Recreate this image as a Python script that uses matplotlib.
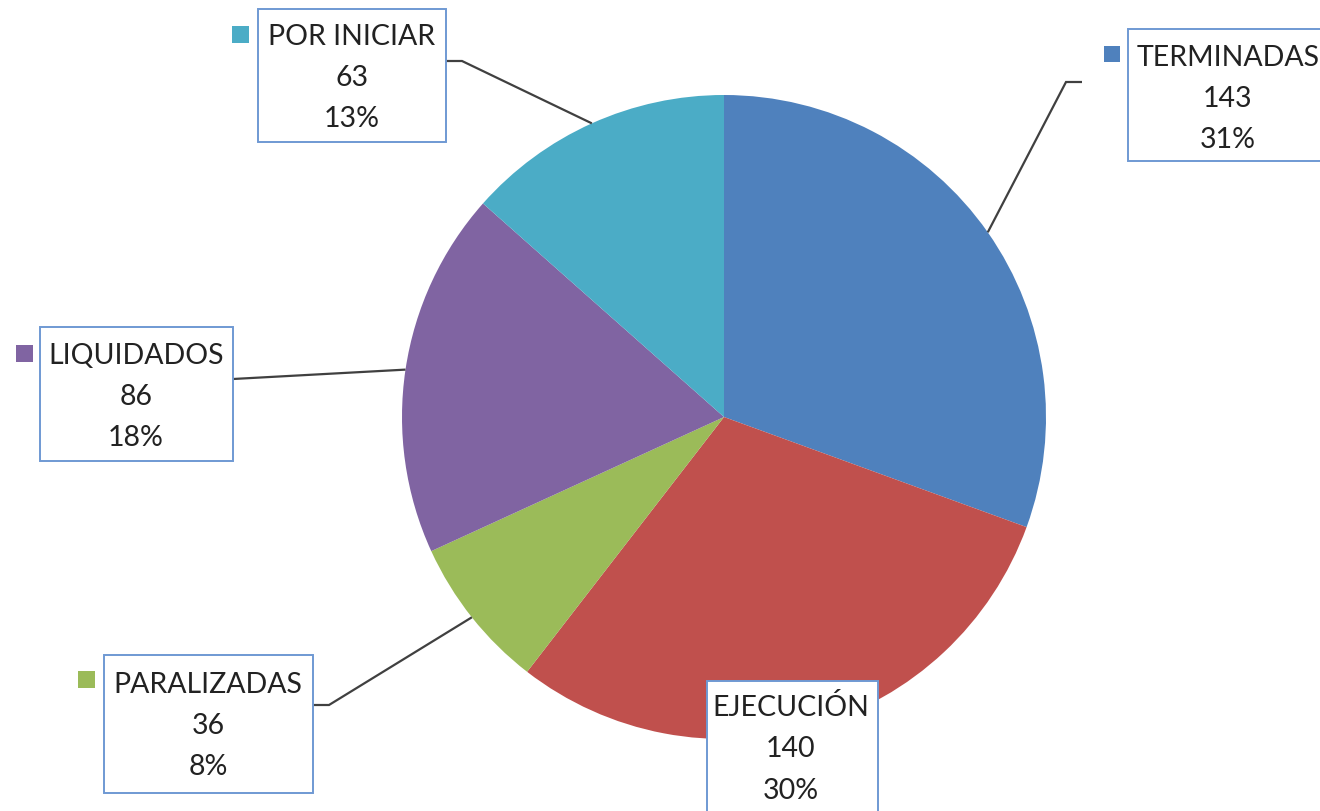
import numpy as np
import matplotlib
matplotlib.use("Agg")
import matplotlib.pyplot as plt
from matplotlib.patches import Rectangle

# ---- data ----
categories = ["TERMINADAS", "EJECUCIÓN", "PARALIZADAS", "LIQUIDADOS", "POR INICIAR"]
values = [143, 140, 36, 86, 63]
colors = ["#4F81BD", "#C0504D", "#9BBB59", "#8064A2", "#4BACC6"]

# ---- layout (pixel coordinates, y measured from top) ----
W, H = 1320, 812
CX, CY, R = 724, 418, 322
boxes = {
    "TERMINADAS": dict(box=(1128, 30, 1330, 162), tc=(1228, 98), mk=(1104, 47, 16),
                       leader=[(1082, 83), (1066, 83)]),
    "EJECUCIÓN": dict(box=(707, 682, 878, 820), tc=(791, 748), mk=(683, 697, 16),
                      leader=None),
    "PARALIZADAS": dict(box=(104, 656, 313, 794), tc=(208, 725), mk=(78, 672, 17),
                        leader=[(313, 706), (329, 706)]),
    "LIQUIDADOS": dict(box=(40, 328, 233, 462), tc=(136, 396), mk=(16, 346, 17),
                       leader=[(233, 380)]),
    "POR INICIAR": dict(box=(258, 10, 446, 143), tc=(352, 77), mk=(232, 27, 17),
                        leader=[(446, 62), (462, 62)]),
}

plt.rcParams['font.family'] = ['Lato', 'DejaVu Sans']
fig = plt.figure(figsize=(W / 100, H / 100), dpi=100)
ax = fig.add_axes([0, 0, 1, 1])

wedges, _ = ax.pie(values, colors=colors, startangle=-90, counterclock=True,
                   center=(CX, CY), radius=R, frame=True,
                   wedgeprops=dict(linewidth=0))
ax.set_xlim(0, W)
ax.set_ylim(H, 0)
ax.set_aspect('equal')
ax.axis('off')

total = sum(values)
for w, name, v, c in zip(wedges, categories, values, colors):
    b = boxes[name]
    x0, y0, x1, y1 = b["box"]
    ax.add_patch(Rectangle((x0, y0), x1 - x0, y1 - y0, facecolor='white',
                           edgecolor='#6F99D3', linewidth=1.4, zorder=4))
    mx, my, ms = b["mk"]
    ax.add_patch(Rectangle((mx, my), ms, ms, facecolor=c, edgecolor='none', zorder=4))
    pct = round(v / total * 100)
    ax.text(b["tc"][0], b["tc"][1] + 1, f"{name}\n{v}\n{pct}%", ha='center', va='center',
            fontsize=20.5, color='#222222', linespacing=1.72, zorder=5)
    if b["leader"]:
        mid = np.deg2rad((w.theta1 + w.theta2) / 2)
        ex = CX + R * np.cos(mid)
        ey = CY + R * np.sin(mid)
        pts = b["leader"] + [(ex, ey)]
        xs, ys = zip(*pts)
        ax.plot(xs, ys, color='#404040', linewidth=1.6, zorder=3,
                solid_capstyle='butt', solid_joinstyle='miter')

fig.savefig("out.png", dpi=100, facecolor='white')
